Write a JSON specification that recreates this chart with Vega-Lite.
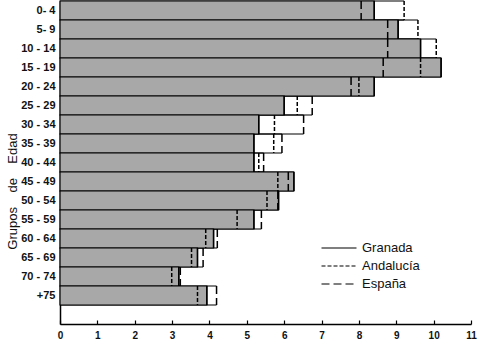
{
  "$schema": "https://vega.github.io/schema/vega-lite/v6.json",
  "width": 411,
  "height": 323,
  "autosize": {"type": "none"},
  "padding": {"left": 60, "top": 1, "right": 6, "bottom": 15},
  "background": "white",
  "config": {
    "view": {"stroke": null},
    "font": "Liberation Sans",
    "axisX": {"labelOverlap": false}
  },
  "data": {
    "values": [
      {"grupo": "0- 4", "serie": "Granada", "valor": 8.41},
      {"grupo": "0- 4", "serie": "Andalucía", "valor": 9.21},
      {"grupo": "0- 4", "serie": "España", "valor": 8.06},
      {"grupo": "5- 9", "serie": "Granada", "valor": 9.05},
      {"grupo": "5- 9", "serie": "Andalucía", "valor": 9.58},
      {"grupo": "5- 9", "serie": "España", "valor": 8.77},
      {"grupo": "10 - 14", "serie": "Granada", "valor": 9.65},
      {"grupo": "10 - 14", "serie": "Andalucía", "valor": 10.07},
      {"grupo": "10 - 14", "serie": "España", "valor": 8.77},
      {"grupo": "15 - 19", "serie": "Granada", "valor": 10.2},
      {"grupo": "15 - 19", "serie": "Andalucía", "valor": 9.65},
      {"grupo": "15 - 19", "serie": "España", "valor": 8.65},
      {"grupo": "20 - 24", "serie": "Granada", "valor": 8.41},
      {"grupo": "20 - 24", "serie": "Andalucía", "valor": 8.0},
      {"grupo": "20 - 24", "serie": "España", "valor": 7.79},
      {"grupo": "25 - 29", "serie": "Granada", "valor": 6.0},
      {"grupo": "25 - 29", "serie": "Andalucía", "valor": 6.35},
      {"grupo": "25 - 29", "serie": "España", "valor": 6.75},
      {"grupo": "30 - 34", "serie": "Granada", "valor": 5.32},
      {"grupo": "30 - 34", "serie": "Andalucía", "valor": 5.74},
      {"grupo": "30 - 34", "serie": "España", "valor": 6.52},
      {"grupo": "35 - 39", "serie": "Granada", "valor": 5.19},
      {"grupo": "35 - 39", "serie": "Andalucía", "valor": 5.72},
      {"grupo": "35 - 39", "serie": "España", "valor": 5.94},
      {"grupo": "40 - 44", "serie": "Granada", "valor": 5.19},
      {"grupo": "40 - 44", "serie": "Andalucía", "valor": 5.32},
      {"grupo": "40 - 44", "serie": "España", "valor": 5.45},
      {"grupo": "45 - 49", "serie": "Granada", "valor": 6.26},
      {"grupo": "45 - 49", "serie": "Andalucía", "valor": 5.83},
      {"grupo": "45 - 49", "serie": "España", "valor": 6.11},
      {"grupo": "50 - 54", "serie": "Granada", "valor": 5.85},
      {"grupo": "50 - 54", "serie": "Andalucía", "valor": 5.54},
      {"grupo": "50 - 54", "serie": "España", "valor": 5.83},
      {"grupo": "55 - 59", "serie": "Granada", "valor": 5.19},
      {"grupo": "55 - 59", "serie": "Andalucía", "valor": 4.74},
      {"grupo": "55 - 59", "serie": "España", "valor": 5.39},
      {"grupo": "60 - 64", "serie": "Granada", "valor": 4.11},
      {"grupo": "60 - 64", "serie": "Andalucía", "valor": 3.9},
      {"grupo": "60 - 64", "serie": "España", "valor": 4.21},
      {"grupo": "65 - 69", "serie": "Granada", "valor": 3.68},
      {"grupo": "65 - 69", "serie": "Andalucía", "valor": 3.52},
      {"grupo": "65 - 69", "serie": "España", "valor": 3.83},
      {"grupo": "70 - 74", "serie": "Granada", "valor": 3.18},
      {"grupo": "70 - 74", "serie": "Andalucía", "valor": 2.99},
      {"grupo": "70 - 74", "serie": "España", "valor": 3.22},
      {"grupo": "+75", "serie": "Granada", "valor": 3.93},
      {"grupo": "+75", "serie": "Andalucía", "valor": 3.68},
      {"grupo": "+75", "serie": "España", "valor": 4.19}
    ]
  },
  "encoding": {
    "x": {
      "field": "valor",
      "type": "quantitative",
      "scale": {"domain": [0, 11], "nice": false},
      "axis": {
        "title": null,
        "values": [0, 1, 2, 3, 4, 5, 6, 7, 8, 9, 10, 11],
        "labelOverlap": false,
        "grid": false,
        "tickSize": -4,
        "tickColor": "#000",
        "tickWidth": 1.2,
        "labelPadding": 10,
        "labelFont": "Liberation Sans",
        "labelFontSize": 10,
        "labelFontWeight": "bold",
        "labelColor": "#111",
        "labelFlush": false,
        "domainColor": "#000",
        "domainWidth": 1.5
      }
    },
    "y": {
      "field": "grupo",
      "type": "nominal",
      "scale": {
        "domain": ["0- 4", "5- 9", "10 - 14", "15 - 19", "20 - 24", "25 - 29", "30 - 34", "35 - 39", "40 - 44", "45 - 49", "50 - 54", "55 - 59", "60 - 64", "65 - 69", "70 - 74", "+75", " "],
        "paddingInner": 0,
        "paddingOuter": 0
      },
      "axis": {
        "title": "Grupos\u00a0\u00a0\u00a0\u00a0de\u00a0\u00a0\u00a0\u00a0Edad",
        "titleFont": "Liberation Sans",
        "titleFontSize": 13,
        "titleFontWeight": "normal",
        "titleColor": "#111",
        "titleAngle": -90,
        "titleX": -48,
        "titleY": 190,
        "titleAlign": "center",
        "titleBaseline": "middle",
        "ticks": false,
        "labelPadding": 5,
        "labelFont": "Liberation Sans",
        "labelFontSize": 11,
        "labelFontWeight": "bold",
        "labelColor": "#111",
        "domainColor": "#000",
        "domainWidth": 1.5
      }
    }
  },
  "layer": [
    {
      "transform": [{"aggregate": [{"op": "max", "field": "valor", "as": "valor"}], "groupby": ["grupo"]}],
      "mark": {"type": "rule", "color": "#000", "strokeWidth": 1.2},
      "encoding": {
        "y": {"field": "grupo", "type": "nominal", "bandPosition": 0},
        "x2": {"datum": 0}
      }
    },
    {
      "transform": [{"aggregate": [{"op": "max", "field": "valor", "as": "valor"}], "groupby": ["grupo"]}],
      "mark": {"type": "rule", "color": "#000", "strokeWidth": 1.2},
      "encoding": {
        "y": {"field": "grupo", "type": "nominal", "bandPosition": 1},
        "x2": {"datum": 0}
      }
    },
    {
      "transform": [{"filter": "datum.serie === 'Granada'"}],
      "mark": {"type": "bar", "fill": "#a8a8a8", "stroke": "#000", "strokeWidth": 1.2}
    },
    {
      "mark": {"type": "rule", "color": "#000", "strokeWidth": 1.5},
      "encoding": {
        "y": {"field": "grupo", "type": "nominal", "bandPosition": 0},
        "y2": {"field": "grupo", "bandPosition": 1},
        "strokeDash": {
          "field": "serie",
          "type": "nominal",
          "scale": {"domain": ["Granada", "Andalucía", "España"], "range": [[1, 0], [4, 2], [8, 4]]},
          "legend": {
            "title": null,
            "orient": "none",
            "legendX": 268,
            "legendY": 236,
            "symbolType": "M-1.75,0H1.75",
            "symbolSize": 400,
            "symbolStrokeWidth": 1.2,
            "symbolStrokeColor": "#000",
            "labelFont": "Liberation Sans",
            "labelFontSize": 13,
            "labelColor": "#111",
            "labelOffset": 12,
            "rowPadding": -1.5
          }
        }
      }
    }
  ]
}
